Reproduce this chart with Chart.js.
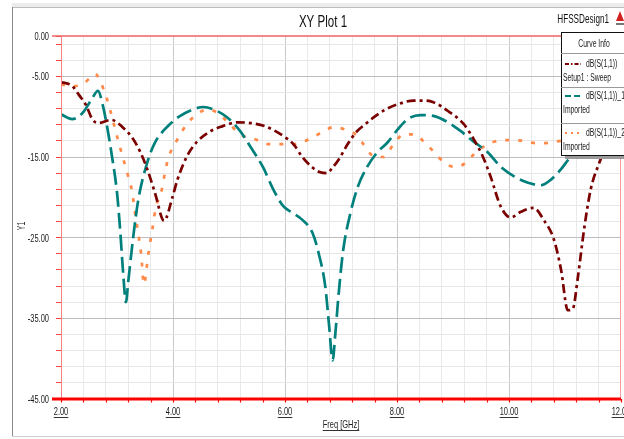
<!DOCTYPE html>
<html>
<head>
<meta charset="utf-8">
<script src="https://cdn.jsdelivr.net/npm/chart.js@4"></script>
<style>
  html, body { margin: 0; padding: 0; background: #fff; }
  canvas { display: block; }
</style>
</head>
<body>
<canvas id="myChart" width="624" height="439"></canvas>
<script>
// dB(S(1,1)) - Setup1 : Sweep
const freq1 = [2.0, 2.2, 2.32, 2.45, 2.55, 2.66, 2.9, 3.1, 3.27, 3.41, 3.54, 3.68, 3.84, 3.99, 4.08, 4.25, 4.43, 4.67, 4.88, 5.15, 5.4, 5.65, 5.83, 6.01, 6.15, 6.31, 6.49, 6.63, 6.75, 6.85, 6.96, 7.12, 7.26, 7.44, 7.62, 7.8, 8.0, 8.3, 8.48, 8.65, 8.93, 9.19, 9.37, 9.53, 9.67, 9.85, 10.03, 10.21, 10.44, 10.62, 10.8, 10.93, 11.05, 11.14, 11.23, 11.34, 11.46, 11.63, 11.8, 12.0];
const sweep = [-5.7, -6.2, -7.3, -8.6, -10.2, -10.8, -10.4, -11.3, -12.6, -14.3, -16.5, -19.5, -22.9, -20.0, -17.8, -14.9, -13.1, -11.8, -11.2, -10.7, -10.8, -11.2, -11.8, -12.6, -13.4, -15.0, -16.3, -16.9, -17.0, -16.3, -15.3, -13.4, -12.0, -10.9, -9.9, -9.1, -8.5, -8.0, -8.0, -8.2, -9.4, -10.9, -12.8, -14.9, -17.4, -21.1, -22.5, -21.8, -21.3, -22.8, -25.2, -29.0, -34.0, -33.8, -29.9, -24.0, -19.0, -15.4, -12.5, -10.5];

// dB(S(1,1))_1 - Imported
const freq2 = [2.0, 2.2, 2.39, 2.55, 2.66, 2.75, 2.84, 2.91, 3.0, 3.06, 3.11, 3.16, 3.2, 3.29, 3.38, 3.54, 3.68, 3.95, 4.13, 4.36, 4.54, 4.72, 4.97, 5.2, 5.38, 5.61, 5.79, 5.97, 6.13, 6.31, 6.49, 6.6, 6.72, 6.79, 6.85, 6.9, 6.96, 7.04, 7.17, 7.3, 7.47, 7.65, 7.83, 8.01, 8.19, 8.42, 8.65, 8.91, 9.14, 9.37, 9.62, 9.85, 10.09, 10.34, 10.57, 10.75, 10.93, 11.1, 11.4, 11.7, 12.0];
const imported1 = [-9.7, -10.3, -9.5, -7.8, -6.8, -8.7, -11.9, -14.9, -19.4, -24.4, -29.4, -33.0, -30.5, -24.9, -20.3, -15.7, -13.2, -10.9, -9.9, -9.1, -8.8, -9.1, -10.1, -11.8, -13.7, -16.3, -19.0, -21.1, -21.9, -22.8, -24.4, -26.9, -31.1, -36.1, -40.2, -36.8, -31.8, -26.5, -21.9, -18.7, -16.2, -14.4, -13.2, -11.6, -10.3, -9.8, -9.9, -10.7, -11.8, -13.1, -14.4, -16.2, -17.4, -18.2, -18.5, -17.8, -16.5, -15.0, -13.3, -12.3, -11.8];

// dB(S(1,1))_2 - Imported
const freq3 = [2.0, 2.2, 2.38, 2.55, 2.61, 2.7, 2.82, 3.0, 3.09, 3.18, 3.27, 3.32, 3.38, 3.43, 3.48, 3.56, 3.63, 3.7, 3.77, 3.91, 4.08, 4.25, 4.43, 4.61, 4.79, 4.97, 5.2, 5.47, 5.69, 5.92, 6.15, 6.33, 6.54, 6.69, 6.87, 7.08, 7.26, 7.4, 7.58, 7.76, 7.94, 8.12, 8.3, 8.48, 8.65, 8.83, 9.01, 9.19, 9.37, 9.55, 9.73, 10.03, 10.26, 10.51, 10.75, 10.93, 11.3, 11.7, 12.0];
const imported2 = [-6.0, -6.2, -6.0, -5.0, -4.7, -5.6, -7.8, -12.4, -14.7, -16.9, -19.3, -21.8, -24.5, -27.0, -30.8, -27.0, -24.0, -21.0, -19.9, -15.3, -12.8, -10.9, -9.7, -9.1, -9.5, -10.6, -12.2, -12.8, -13.4, -13.4, -13.4, -13.1, -12.4, -11.8, -11.3, -11.6, -12.2, -13.4, -14.9, -15.0, -13.4, -12.2, -12.2, -13.1, -14.3, -15.6, -16.2, -15.9, -14.7, -13.7, -13.1, -12.9, -13.0, -13.3, -13.2, -13.0, -13.0, -13.0, -13.0];

const seriesNames = ['dB(S(1,1))', 'dB(S(1,1))_1', 'dB(S(1,1))_2'];
const seriesSub = ['Setup1 : Sweep', 'Imported', 'Imported'];
const xLabels = [2, 4, 6, 8, 10, 12];
const yLabels = [0, -5, -15, -25, -35, -45];

const FONT = "'Liberation Sans', Arial, sans-serif";
const NARROW = 0.68; // horizontal squeeze to mimic the condensed font
const colors = ['#7a0000', '#00807c', '#ff8a4a'];
const dashes = [[9, 4, 3, 4], [16, 6], [4, 9]];

function pts(xs, ys) { return xs.map((x, i) => ({ x: x, y: ys[i] })); }

// x ticks every 0.4 GHz, y ticks at 0 and odd dB values
const xTicks = [];
for (let i = 0; i <= 25; i++) xTicks.push(Math.round((2 + i * 0.4) * 10) / 10);
const yTicks = [0];
for (let v = -1; v >= -45; v -= 2) yTicks.push(v);

// draw squeezed text, returns drawn width
function nText(c, txt, x, y, align, size, color) {
  c.save();
  c.font = size + 'px ' + FONT;
  c.fillStyle = color || '#1a1a1a';
  c.textAlign = align;
  c.textBaseline = 'alphabetic';
  c.translate(x, y);
  c.scale(NARROW, 1);
  c.fillText(txt, 0, 0);
  const w = c.measureText(txt).width * NARROW;
  c.restore();
  return w;
}

const decor = {
  id: 'decor',
  beforeDraw(chart) {
    const c = chart.ctx;
    c.save();
    c.fillStyle = '#fff';
    c.fillRect(0, 0, chart.width, chart.height);
    // outer frame
    c.fillStyle = '#ececec';
    c.fillRect(12, 3, 612, 4);
    c.strokeStyle = '#bdbdbd';
    c.lineWidth = 1;
    c.beginPath(); c.moveTo(12, 7.5); c.lineTo(624, 7.5); c.stroke();
    c.strokeStyle = '#8a8a8a';
    c.beginPath(); c.moveTo(12.5, 7); c.lineTo(12.5, 436); c.stroke();
    c.strokeStyle = '#d0d0d0';
    c.beginPath(); c.moveTo(12, 436.5); c.lineTo(624, 436.5); c.stroke();
    c.restore();
  },
  afterDraw(chart) {
    const c = chart.ctx;
    const a = chart.chartArea;
    const xs = chart.scales.x, ys = chart.scales.y;
    c.save();
    // plot borders
    c.strokeStyle = '#f26060'; c.lineWidth = 1.5;
    c.beginPath(); c.moveTo(52, a.top); c.lineTo(a.right, a.top); c.stroke();
    c.strokeStyle = '#ff8080'; c.lineWidth = 1;
    c.beginPath(); c.moveTo(a.left + 0.5, a.top); c.lineTo(a.left + 0.5, a.bottom); c.stroke();
    c.strokeStyle = '#ff9a9a';
    c.beginPath(); c.moveTo(a.right - 0.5, a.top); c.lineTo(a.right - 0.5, a.bottom); c.stroke();
    c.strokeStyle = '#ff0000'; c.lineWidth = 3;
    c.beginPath(); c.moveTo(52, a.bottom); c.lineTo(a.right, a.bottom); c.stroke();
    c.lineWidth = 1.2;
    xTicks.forEach(v => {
      const px = Math.round(xs.getPixelForValue(v)) + 0.5;
      c.beginPath(); c.moveTo(px, a.bottom); c.lineTo(px, a.bottom + 3.5); c.stroke();
    });
    // tick labels
    c.strokeStyle = '#333'; c.lineWidth = 1;
    xLabels.forEach(v => {
      const px = xs.getPixelForValue(v);
      const w = nText(c, v.toFixed(2), px, 415, 'center', 11);
      c.beginPath(); c.moveTo(px - w / 2, 417.5); c.lineTo(px + w / 2, 417.5); c.stroke();
    });
    yLabels.forEach(v => {
      nText(c, v.toFixed(2), 49, ys.getPixelForValue(v) + 4, 'right', 11);
    });
    // axis titles
    const fw = nText(c, 'Freq [GHz]', 341, 428, 'center', 11);
    c.beginPath(); c.moveTo(341 - fw / 2, 430.5); c.lineTo(341 + fw / 2, 430.5); c.stroke();
    c.save();
    c.translate(25, 226); c.rotate(-Math.PI / 2);
    nText(c, 'Y1', 0, 0, 'center', 10);
    c.restore();
    // title
    nText(c, 'XY Plot 1', 323, 27, 'center', 17, '#111');
    nText(c, 'HFSSDesign1', 609, 23, 'right', 12, '#111');
    // small logo
    c.fillStyle = '#d02020';
    c.beginPath(); c.moveTo(620, 11); c.lineTo(616, 21); c.lineTo(624, 21); c.closePath(); c.fill();
    c.fillStyle = '#777'; c.fillRect(616, 23, 8, 2);
    // curve info box
    const bx = 561, by = 32, bw = 70, bh = 123;
    c.fillStyle = '#9a9a9a';
    c.fillRect(bx + 4, by + bh, bw, 4);
    c.fillStyle = '#fff';
    c.fillRect(bx, by, bw, bh);
    c.strokeStyle = '#111'; c.lineWidth = 1;
    c.strokeRect(bx + 0.5, by + 0.5, bw, bh);
    c.strokeStyle = '#999';
    [53, 87, 123].forEach(y => { c.beginPath(); c.moveTo(bx, y + 0.5); c.lineTo(bx + bw, y + 0.5); c.stroke(); });
    nText(c, 'Curve Info', 594, 47, 'center', 10);
    const rows = [67, 99, 136];
    rows.forEach((y, i) => {
      c.strokeStyle = colors[i]; c.lineWidth = 2.2;
      c.setLineDash(i === 0 ? [4, 2, 1.5, 2] : (i === 1 ? [6, 3] : [2, 4]));
      c.beginPath(); c.moveTo(565, y - 3); c.lineTo(581, y - 3); c.stroke();
      c.setLineDash([]);
      nText(c, seriesNames[i], 586, y, 'left', 10);
      nText(c, seriesSub[i], 563, y + 14, 'left', 10);
    });
    c.restore();
  }
};

const ctx = document.getElementById('myChart').getContext('2d');
const myChart = new Chart(ctx, {
  type: 'line',
  data: {
    datasets: [
      { label: seriesNames[0], data: pts(freq1, sweep), borderColor: colors[0], borderDash: dashes[0] },
      { label: seriesNames[1], data: pts(freq2, imported1), borderColor: colors[1], borderDash: dashes[1] },
      { label: seriesNames[2], data: pts(freq3, imported2), borderColor: colors[2], borderDash: dashes[2] }
    ].map(d => Object.assign(d, {
      borderWidth: 2.7, pointRadius: 0, fill: false,
      cubicInterpolationMode: 'monotone', borderCapStyle: 'butt'
    }))
  },
  options: {
    responsive: false,
    devicePixelRatio: 1,
    animation: false,
    events: [],
    layout: { padding: { top: 36, right: 3, bottom: 0, left: 0 } },
    plugins: { legend: { display: false }, title: { display: false }, tooltip: { enabled: false } },
    scales: {
      x: {
        type: 'linear', min: 2, max: 12,
        afterBuildTicks: s => { s.ticks = xTicks.map(v => ({ value: v })); },
        afterFit: s => { s.height = 40; s.paddingLeft = 0; s.paddingRight = 0; },
        border: { display: false },
        grid: {
          drawTicks: false,
          color: c => {
            const v = c.tick && c.tick.value;
            if (v === 2 || v === 12) return 'rgba(0,0,0,0)';
            return xLabels.includes(v) ? '#c9c9c9' : '#e9e9e9';
          },
          lineWidth: 1
        },
        ticks: { display: false, autoSkip: false }
      },
      y: {
        type: 'linear', min: -45, max: 0,
        afterBuildTicks: s => { s.ticks = yTicks.map(v => ({ value: v })); },
        afterFit: s => { s.width = 61; s.paddingTop = 0; s.paddingBottom = 0; },
        border: { display: false },
        grid: {
          tickLength: 5, tickColor: '#ff4040',
          color: c => {
            const v = c.tick && c.tick.value;
            if (v === 0 || v === -45) return 'rgba(0,0,0,0)';
            return yLabels.includes(v) ? '#bdbdbd' : '#e6e6e6';
          },
          lineWidth: 1
        },
        ticks: { display: false, autoSkip: false }
      }
    }
  },
  plugins: [decor]
});
</script>
</body>
</html>
